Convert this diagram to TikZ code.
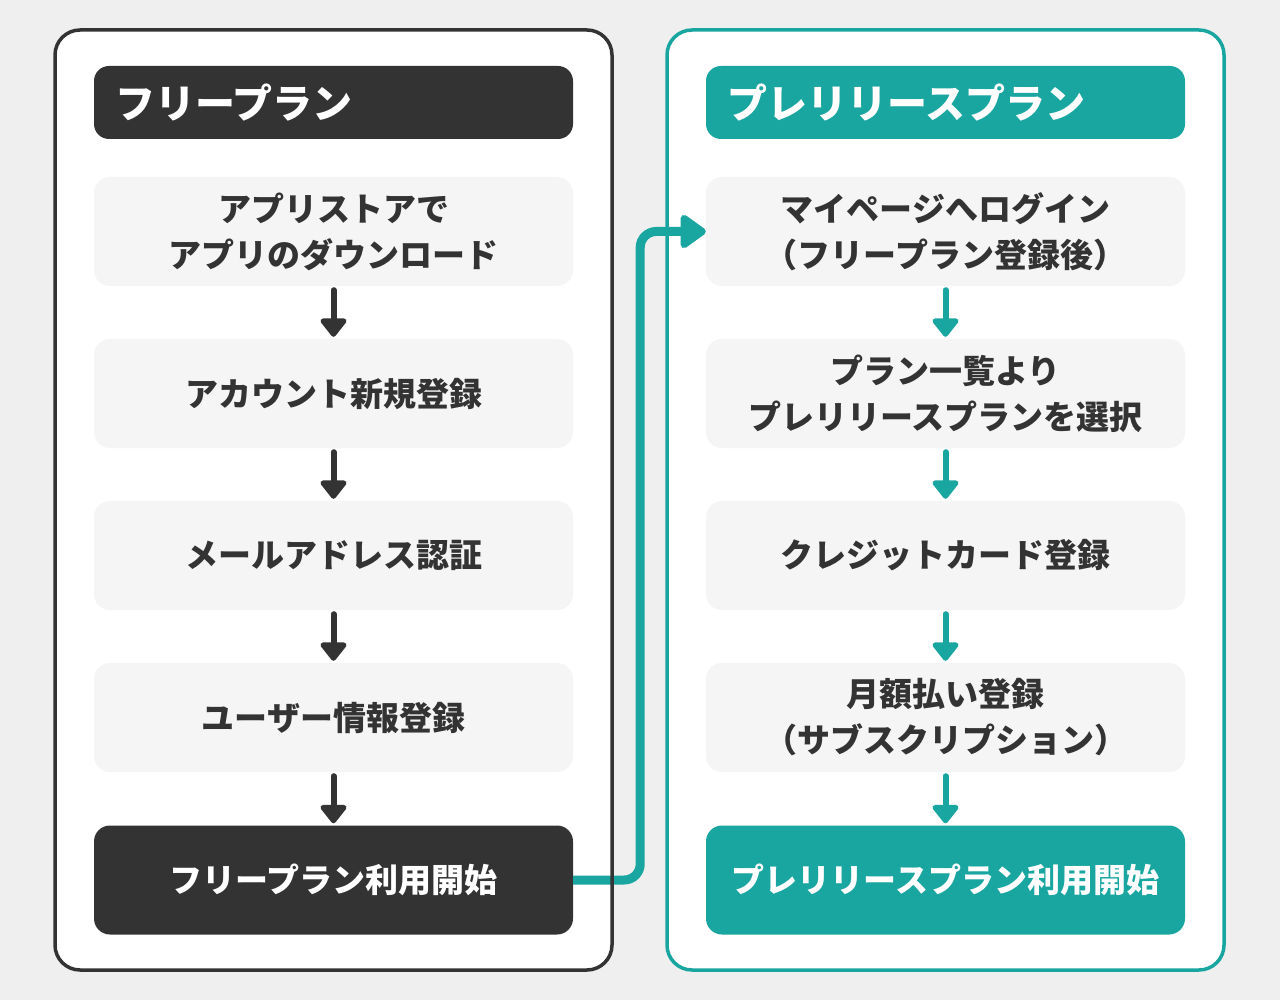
\documentclass[tikz,border=0pt]{standalone}
\usepackage{fontspec}
\setmainfont{Noto Sans CJK JP}
\usetikzlibrary{arrows.meta}
\definecolor{bgc}{HTML}{EFEFEF}
\definecolor{dark}{HTML}{333333}
\definecolor{teal}{HTML}{1AA6A0}
\definecolor{stepc}{HTML}{F5F5F5}
\tikzset{
  panel/.style={rounded corners=25pt,fill=white},
  hdr/.style={rounded corners=15pt,minimum width=479pt,minimum height=73pt,text width=437pt,align=left,inner xsep=21pt,text=white,font=\fontsize{40}{46}\selectfont\bfseries},
  stepbox/.style={rounded corners=16pt,fill=stepc,minimum width=479pt,minimum height=109pt,align=center,text=dark,font=\fontsize{33}{46}\selectfont\bfseries},
  flow/.style={line width=6pt,line cap=round,shorten <=4pt,shorten >=2pt,-{Triangle[round,length=20pt,width=30pt]}},
}
\begin{document}
\begin{tikzpicture}[x=1pt,y=-1pt]
\fill[bgc] (0,0) rectangle (1280,1000);
\useasboundingbox (0,0) rectangle (1280,1000);
% panels
\fill[panel] (55,30) rectangle (612,970);
\fill[panel] (667,30) rectangle (1224,970);
% left column
\node[hdr,fill=dark] (LH) at (333.5,102.5) {フリープラン};
\node[stepbox] (L1) at (333.5,231.5) {アプリストアで\\アプリのダウンロード};
\node[stepbox] (L2) at (333.5,393.5) {アカウント新規登録};
\node[stepbox] (L3) at (333.5,555.5) {メールアドレス認証};
\node[stepbox] (L4) at (333.5,717.5) {ユーザー情報登録};
\node[stepbox,fill=dark,text=white] (L5) at (333.5,880) {フリープラン利用開始};
% right column
\node[hdr,fill=teal] (RH) at (945.5,102.5) {プレリリースプラン};
\node[stepbox] (R1) at (945.5,231.5) {マイページへログイン\\（フリープラン登録後）};
\node[stepbox] (R2) at (945.5,393.5) {プラン一覧より\\プレリリースプランを選択};
\node[stepbox] (R3) at (945.5,555.5) {クレジットカード登録};
\node[stepbox] (R4) at (945.5,717.5) {月額払い登録\\（サブスクリプション）};
\node[stepbox,fill=teal,text=white] (R5) at (945.5,880) {プレリリースプラン利用開始};
% arrows
\draw[flow,dark] (L1) -- (L2);
\draw[flow,dark] (L2) -- (L3);
\draw[flow,dark] (L3) -- (L4);
\draw[flow,dark] (L4) -- (L5);
\draw[flow,teal] (R1) -- (R2);
\draw[flow,teal] (R2) -- (R3);
\draw[flow,teal] (R3) -- (R4);
\draw[flow,teal] (R4) -- (R5);
% connector
\draw[teal,line width=9pt,rounded corners=16pt,-{Triangle[round,length=28pt,width=38pt]}] (L5.east) -- ++(67,0) |- (R1.west);
% panel borders
\draw[dark,line width=3.5pt,rounded corners=25pt] (55,30) rectangle (612,970);
\draw[teal,line width=3.5pt,rounded corners=25pt] (667,30) rectangle (1224,970);
\end{tikzpicture}
\end{document}
